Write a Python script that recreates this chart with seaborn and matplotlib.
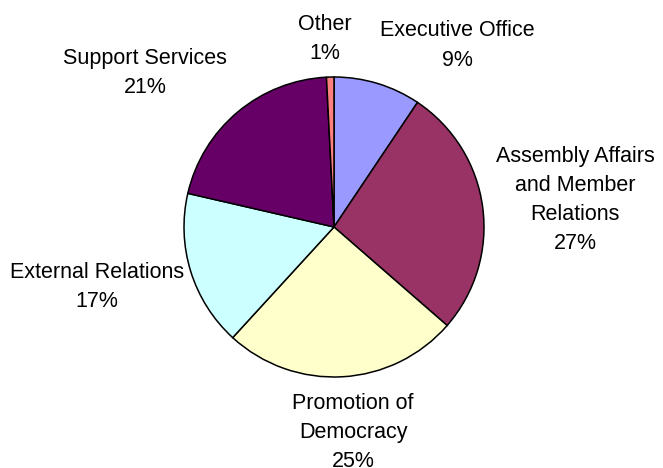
import seaborn as sns
import matplotlib.pyplot as plt

# budget share by programme (%)
programmes = ['Executive Office', 'Assembly Affairs\nand Member\nRelations',
              'Promotion of\nDemocracy', 'External Relations',
              'Support Services', 'Other']
shares = [9.4, 27.0, 25.4, 16.8, 20.6, 0.8]
slice_colors = ['#9999FF', '#993366', '#FFFFCC', '#CCFFFF', '#660066', '#FF8080']

# where each label sits (pie radius = 1)
label_pos = [(0.82, 1.21), (1.607, 0.18), (0.127, -1.367),
             (-1.58, -0.40), (-1.26, 1.027), (-0.06, 1.253)]

sns.set_theme(style='white')
plt.rcParams['font.family'] = ['Liberation Sans', 'DejaVu Sans']

fig = plt.figure(figsize=(6.63, 4.68), dpi=100)
ax = fig.add_axes([0, 0, 1, 1])

ax.pie(shares, colors=sns.color_palette(slice_colors), startangle=90,
       counterclock=False, radius=1,
       wedgeprops=dict(edgecolor='black', linewidth=1.1))

total = sum(shares)
for name, val, (x, y) in zip(programmes, shares, label_pos):
    ax.text(x, y, f"{name}\n{round(val / total * 100)}%", ha='center', va='center',
            fontsize=15.5, linespacing=1.5, color='black')

ax.set_xlim(-334 / 150, (663 - 334) / 150)
ax.set_ylim(-(468 - 227) / 150, 227 / 150)
ax.set_aspect('auto')
ax.axis('off')

fig.savefig('out.png', dpi=100)
